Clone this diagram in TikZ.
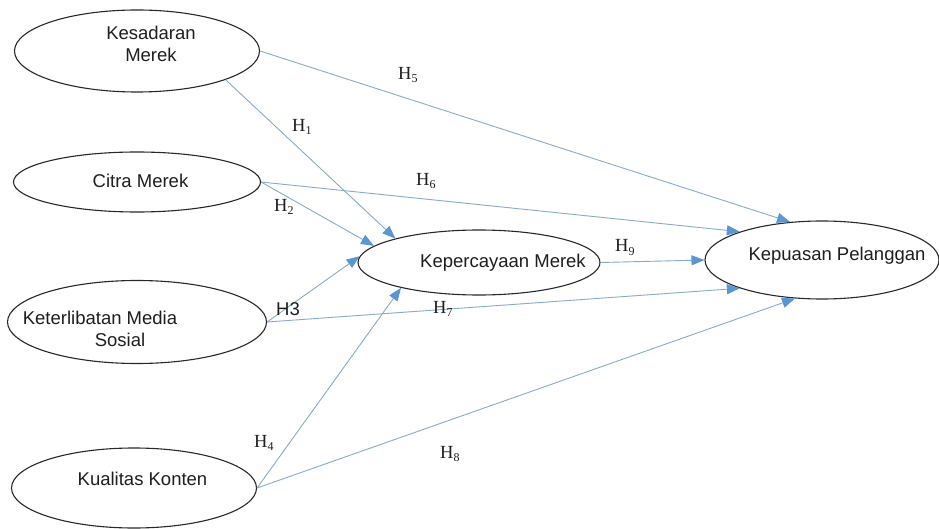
\documentclass[tikz,border=0pt]{standalone}
\usepackage{fontspec}
\setmainfont{Liberation Sans}
\newfontfamily\hfont{Liberation Serif}
\usetikzlibrary{shapes.geometric,arrows.meta}
\definecolor{linec}{RGB}{135,170,205}
\definecolor{headc}{RGB}{90,150,210}
\definecolor{edgec}{RGB}{40,40,40}
\definecolor{txtc}{RGB}{30,30,30}
\newcommand{\hyplab}[1]{H\raisebox{-3pt}{\fontsize{12}{12}\selectfont #1}}
\begin{document}
\begin{tikzpicture}[x=1pt,y=-1pt,
  latent/.style={draw=edgec, line width=1.1pt, ellipse, inner sep=0pt, fill=white},
  lbl/.style={font=\fontsize{18.5}{22}\selectfont, inner sep=0pt, anchor=base, text=txtc},
  hyp/.style={font=\fontsize{18.5}{22}\hfont, inner sep=0pt, anchor=base west, text=txtc},
  hyps/.style={font=\fontsize{18.5}{22}\selectfont, inner sep=0pt, anchor=base west, text=txtc},
  relpath/.style={draw=linec, line width=0.9pt, -{Triangle[length=13pt,width=10pt,color=headc]}}]
\fill[white] (0,0) rectangle (939,529);
\useasboundingbox (0,0) rectangle (939,529);

% latent variables
\node[latent, minimum width=245pt, minimum height=82pt] (kes) at (137,51) {};
\node[latent, minimum width=247pt, minimum height=60pt] (cit) at (137,182) {};
\node[latent, minimum width=259pt, minimum height=83pt] (ket) at (137,322) {};
\node[latent, minimum width=245pt, minimum height=80pt] (kua) at (134,488) {};
\node[latent, minimum width=242pt, minimum height=65pt] (kpc) at (479,262.5) {};
\node[latent, minimum width=234pt, minimum height=78pt] (kps) at (822,260) {};

% texts
\node[lbl] (t1a) at (151,40) {Kesadaran};
\node[lbl] (t1b) at (151,62) {Merek};
\node[lbl] (t2) at (140.5,188) {Citra Merek};
\node[lbl] (t3a) at (100,324) {Keterlibatan Media};
\node[lbl] (t3b) at (120,346) {Sosial};
\node[lbl] (t4) at (142.5,485) {Kualitas Konten};
\node[lbl] (t5) at (503,268) {Kepercayaan Merek};
\node[lbl] (t6) at (837,261) {Kepuasan Pelanggan};

% paths
\draw[relpath] (kes.east) -- (kps.130);
\draw[relpath] (kes.-18) -- (kpc.164);
\draw[relpath] (cit.east) -- (kps.161);
\draw[relpath] (cit.east) -- (kpc.171);
\draw[relpath] (ket.east) -- (kpc.177.5);
\draw[relpath] (ket.east) -- (kps.199);
\draw[relpath] (kua.east) -- (kpc.-162);
\draw[relpath] (kua.east) -- (kps.235);
\draw[relpath] (kpc.east) -- (kps.west);

% hypothesis labels
\node[hyp] (h5) at (398,80) {\hyplab{5}};
\node[hyp] (h1) at (292,132) {\hyplab{1}};
\node[hyp] (h6) at (416,186) {\hyplab{6}};
\node[hyp] (h2) at (274,212) {\hyplab{2}};
\node[hyps] (h3) at (276,315) {H3};
\node[hyp] (h7) at (433,313) {\hyplab{7}};
\node[hyp] (h9) at (615,252) {\hyplab{9}};
\node[hyp] (h4) at (254,447) {\hyplab{4}};
\node[hyp] (h8) at (440,458) {\hyplab{8}};
\end{tikzpicture}
\end{document}
